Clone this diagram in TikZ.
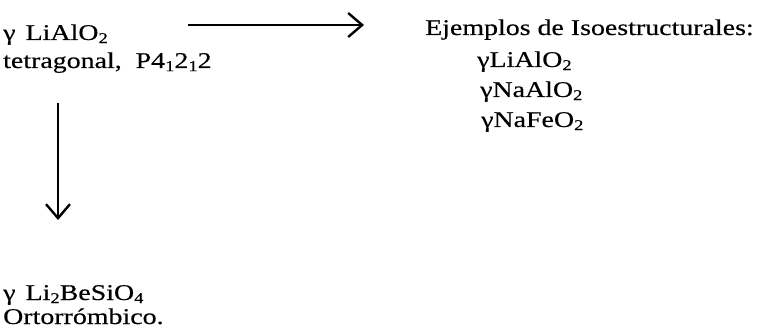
\documentclass[tikz,border=0pt]{standalone}
\usepackage{fontspec}
\setmainfont[FakeStretch=1.24,FakeBold=0.4]{Liberation Serif}
\usetikzlibrary{arrows.meta}
\newcommand{\sbs}[1]{\raisebox{-0.3ex}{\fontsize{15}{15}\selectfont #1}}
\begin{document}
\begin{tikzpicture}[x=1pt,y=-1pt,
  lbl/.style={anchor=base west,inner sep=0pt,font=\fontsize{22.5}{27}\selectfont},
  arr/.style={line width=2.4pt,-{Straight Barb[length=14pt,width=24pt,line width=2.4pt]}}]
\useasboundingbox (0,0) rectangle (763,334);
\node[lbl] (a1) at (3,40) {γ\hspace{0.45em}LiAlO\sbs{2}};
\node[lbl] (a2) at (3,68) {tetragonal,\ \ P4\sbs{1}2\sbs{1}2};
\node[lbl] (e0) at (425,35) {Ejemplos de Isoestructurales:};
\node[lbl] (e1) at (477,67) {γLiAlO\sbs{2}};
\node[lbl] (e2) at (480,97) {γNaAlO\sbs{2}};
\node[lbl] (e3) at (481,127) {γNaFeO\sbs{2}};
\node[lbl] (b1) at (3,300) {γ\hspace{0.45em}Li\sbs{2}BeSiO\sbs{4}};
\node[lbl] (b2) at (3,324) {Ortorrómbico.};
\coordinate (h1) at (188,25);
\coordinate (h2) at (364,25);
\coordinate (v1) at (58,103);
\coordinate (v2) at (58,220);
\draw[arr] (h1) -- (h2);
\draw[arr] (v1) -- (v2);
\end{tikzpicture}
\end{document}
